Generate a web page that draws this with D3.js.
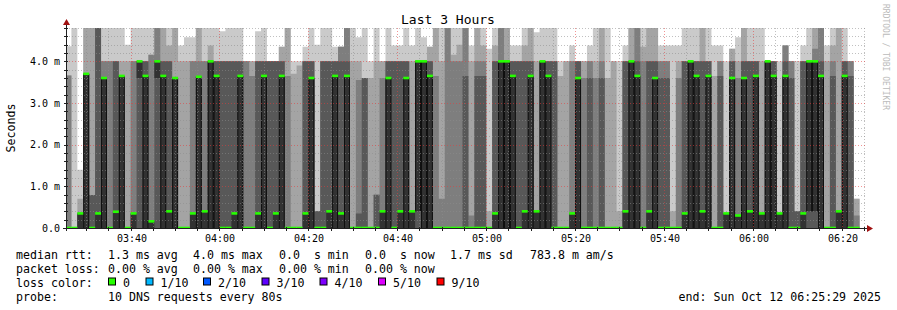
<!DOCTYPE html>
<html><head><meta charset="utf-8">
<script src="https://cdn.jsdelivr.net/npm/d3@7/dist/d3.min.js"></script>
<style>
body{margin:0;background:#fff}
svg{display:block}
text{font-family:"DejaVu Sans Mono",monospace}
</style>
</head><body>
<svg id="chart" width="897" height="310"></svg>
<script>
// ---------- data ----------
const chartTitle = "Last 3 Hours";
const yAxisLabel = "Seconds";
const endTime = new Date(2025, 9, 12, 6, 25, 29);
const startTime = new Date(2025, 9, 12, 3, 25, 29);
const firstStep = new Date(2025, 9, 12, 3, 25, 22);
const stepSeconds = 80;
// 10 sorted DNS round-trip times per step, in ms (values above 4.8 are off the chart)
const pings = [
[0,0,0,0,0,0,0,3.66,3.66,4.36],
[0,0,0,0,0,0,0,0,0,5],
[0,0,0,0,0,0.35,0.35,0.35,0.70,1.40],
[0,0,0,0,0,3.70,3.70,3.70,5,5],
[0,0,0,0,0,0,0.79,0.79,5,5],
[0,0,0,0,0,0.35,5,5,5,5],
[0,0,0,0,0,3.60,3.60,4.0,4.0,5],
[0,0,0,0,0,0,0,4.0,4.0,5],
[0,0,0,0,0,0.39,4.0,4.0,4.0,5],
[0,0,0,0,0,3.65,3.65,3.65,4.0,5],
[0,0,0,0,0,0,0,0,4.0,4.40],
[0,0,0,0,0,0.35,0.35,4.0,4.0,5],
[0,0,0,0,3.6,4.0,4.0,4.0,4.0,5],
[0,0,0,0,0,3.65,4.0,4.0,4.0,5],
[0,0,0,0,0,0.16,0.16,4.16,4.16,5],
[0,0,0,0,3.6,4.0,4.0,5,5,5],
[0,0,0,0,0,3.65,4.0,4.0,5,5],
[0,0,0,0,0,0.40,4.0,4.0,4.38,5],
[0,0,0,0,0,3.60,3.60,3.60,5,5],
[0,0,0,0,0,0,0,0,4.0,4.38],
[0,0,0,0,0,0,0,0,4.0,4.58],
[0,0,0,0,0,0.35,0.35,4.0,4.0,4.58],
[0,0,0,0,0,3.63,3.63,4.0,5,5],
[0,0,0,0,0,0.40,0.40,4.0,4.0,5],
[0,0,0,0,0,4.0,4.0,4.0,4.38,5],
[0,0,0,0,0,3.65,4.0,4.0,4.0,5],
[0,0,0,0,0,0,4.0,4.0,4.0,4.72],
[0,0,0,0,0,0,4.0,4.0,4.0,5],
[0,0,0,0,0,0.35,4.0,4.0,4.0,5],
[0,0,0,0,0,3.65,4.0,4.0,4.0,5],
[0,0,0,0,0,0,0,4.0,4.0,4.0],
[0,0,0,0,0,0,0,3.65,4.0,4.0],
[0,0,0,0,0,0.35,4.0,4.0,4.0,4.72],
[0,0,0,0,0,3.65,4.0,4.0,4.0,5],
[0,0,0,0,0,0,4.0,4.0,4.0,4.0],
[0,0,0,0,0,0.35,4.0,4.0,4.0,4.0],
[0,0,0,0,0,3.65,4.0,4.0,4.35,4.35],
[0,0,0,0,0,0,0,3.65,5,5],
[0,0,0,0,0,0,0,0,3.7,4.0],
[0,0,0,0,0,0,0,0,3.9,4.0],
[0,0,0,0,0,0.35,4.0,4.0,4.0,4.35],
[0,0,0,0,0,3.60,4.0,4.0,4.0,5],
[0,0,0,0,0,0,0.40,0.40,0.40,4.40],
[0,0,0,0,0,0,4.0,4.0,4.0,5],
[0,0,0,0,0,0.40,4.0,4.0,4.0,5],
[0,0,0,0,0,3.65,4.0,4.0,4.0,4.35],
[0,0,0,0,0,0.35,4.0,4.35,4.35,4.35],
[0,0,0,0,0,3.65,4.0,5,5,5],
[0,0,0,0,0,0,0,0,4.0,5],
[0,0,0,0,0,0,0.35,3.55,4.0,4.58],
[0,0,0,0,0,0,3.6,3.6,3.6,5],
[0,0,0,0,0,0,0,0,3.6,4.0],
[0,0,0,0,0,0,0.8,0.8,4.0,5],
[0,0,0,0,0,0.40,0.40,3.6,4.0,4.0],
[0,0,0,0,0,3.60,4.0,4.0,4.0,5],
[0,0,0,0,0,0,4.0,4.0,4.0,4.38],
[0,0,0,0,0,0.40,4.0,4.0,4.0,4.38],
[0,0,0,0,0,3.60,4.0,4.0,4.0,5],
[0,0,0,0,0,0.40,0.40,0.40,4.0,4.38],
[0,0,0,0,0.4,4.0,4.0,4.0,4.0,5],
[0,0,0,0,0,4.0,4.0,4.0,4.0,4.58],
[0,0,0,0,0,3.65,4.0,4.0,4.35,4.35],
[0,0,0,0,0,0,0,3.65,5,5],
[0,0,0,0,0,0,0,0.7,4.0,5],
[0,0,0,0,0,0,0,5,5,5],
[0,0,0,0,0,0,0,4.0,4.16,5],
[0,0,0,0,0,0,0,4.0,4.4,5],
[0,0,0,0,0,0,3.65,5,5,5],
[0,0,0,0,0,0,0,0.3,4.0,4.38],
[0,0,0,0,0,0,3.65,4.0,5,5],
[0,0,0,0,0,0,3.65,4.0,4.38,5],
[0,0,0,0,0,0,0,0,0.4,4.3],
[0,0,0,0,0,0.35,4.0,4.0,4.38,5],
[0,0,0,0,0,4.0,4.0,5,5,5],
[0,0,0,0,0,4.0,4.0,4.0,5,5],
[0,0,0,0,0,3.65,4.0,4.0,4.0,4.38],
[0,0,0,0,0,0,4.0,4.0,4.0,4.38],
[0,0,0,0,0,0.40,4.0,4.0,4.38,5],
[0,0,0,0,0,3.65,4.0,4.0,5,5],
[0,0,0,0,0,0.40,0.40,0.40,4.0,4.7],
[0,0,0,0,0,4.0,4.0,4.0,4.0,5],
[0,0,0,0,0,3.65,4.0,4.0,4.0,5],
[0,0,0,0,0,0,4.0,4.0,4.0,5],
[0,0,0,0,0,0,0,0,3.65,4.0],
[0,0,0,0,0,0,0,0,4.0,4.0],
[0,0,0,0,0,0.35,0.35,4.0,4.0,4.38],
[0,0,0,0,0,3.60,4.0,4.0,4.0,4.0],
[0,0,0,0,0,0,0,3.6,4.0,4.0],
[0,0,0,0,0,0,3.6,4.0,4.0,4.38],
[0,0,0,0,0,0,0,3.6,4.0,5],
[0,0,0,0,0,0,3.6,4.0,5,5],
[0,0,0,0,0,0,0,0,3.6,5],
[0,0,0,0,0,0,0,0,4.0,4.0],
[0,0,0,0,0,0,0,0,0.4,4.0],
[0,0,0,0,0,0.40,4.0,4.0,4.0,4.38],
[0,0,0,0,0,4.0,4.0,4.0,5,5],
[0,0,0,0,0,3.65,4.0,5,5,5],
[0,0,0,0,0,0,0,4.0,4.35,5],
[0,0,0,0,0,0.40,4.0,4.0,5,5],
[0,0,0,0,0,3.60,4.0,4.0,5,5],
[0,0,0,0,0,0,3.6,4.0,4.0,4.38],
[0,0,0,0,0,0,3.6,4.0,4.0,4.38],
[0,0,0,0,0,0,0,0,0.4,4.38],
[0,0,0,0,0,0,0,3.6,4.0,4.38],
[0,0,0,0,0,0.35,4.0,4.0,4.0,5],
[0,0,0,0,0,4.0,4.0,4.0,4.0,5],
[0,0,0,0,0,3.65,4.0,4.0,4.0,5],
[0,0,0,0,0,0.40,4.0,4.0,5,5],
[0,0,0,0,0,3.65,4.0,4.0,4.0,5],
[0,0,0,0,0,0,0,0,3.65,4.38],
[0,0,0,0,0,0,3.65,4.0,4.0,4.38],
[0,0,0,0,0,0.35,0.35,0.35,0.35,4.0],
[0,0,0,0,0,3.60,4.0,4.0,4.3,4.3],
[0,0,0,0,0,0.30,0.30,3.6,4.0,4.58],
[0,0,0,0,0,3.60,4.0,4.0,5,5],
[0,0,0,0,0,0.40,4.0,4.0,4.0,5],
[0,0,0,0,0,3.65,4.0,4.0,4.0,5],
[0,0,0,0,0,0.35,0.35,0.35,4.0,5],
[0,0,0,0,0,4.0,4.0,4.0,4.0,4.0],
[0,0,0,0,0,3.65,4.0,4.0,4.0,4.0],
[0,0,0,0,0,0.35,0.35,0.35,0.35,4.0],
[0,0,0,0,0,3.65,4.0,4.38,4.38,4.38],
[0,0,0,0,0,0,3.6,4.0,4.0,4.0],
[0,0,0,0,0,0,0.4,0.4,0.4,4.0],
[0,0,0,0,0,0.35,4.0,4.0,4.0,4.38],
[0,0,0,0,0.4,4.0,4.0,4.0,4.0,5],
[0,0,0,0,0.4,4.0,4.0,4.3,5,5],
[0,0,0,0,0,3.65,4.0,5,5,5],
[0,0,0,0,0,0,0,0,4.0,4.38],
[0,0,0,0,0,0,3.65,4.0,4.38,5],
[0,0,0,0,0,0.40,0.40,0.40,5,5],
[0,0,0,0,0,3.65,4.0,4.0,4.0,5],
[0,0,0,0,0,0,3.65,4.0,4.0,4.0],
[0,0,0,0,0,0,0,0.3,0.7,0.7]
];
const yTickValues = [0, 1, 2, 3, 4];
const yTickLabels = ["0.0", "1.0 m", "2.0 m", "3.0 m", "4.0 m"];
const lossLabels = ["0", "1/10", "2/10", "3/10", "4/10", "5/10", "9/10"];
const lossColors = ["#26ff00", "#00b8ff", "#0059ff", "#5e00ff", "#7e00ff", "#dd00ff", "#ff0000"];
const medianStats = ["1.3 ms avg", "4.0 ms max", "0.0  s min", "0.0  s now", "1.7 ms sd", "783.8 m am/s"];
const lossStats = ["0.00 % avg", "0.00 % max", "0.00 % min", "0.00 % now"];
const probeText = "10 DNS requests every 80s";
const endText = "end: Sun Oct 12 06:25:29 2025";

// ---------- drawing ----------
const svg = d3.select("#chart");
const X0 = 66, X1 = 866, Y0 = 228, Y1 = 28;
const x = d3.scaleTime().domain([startTime, endTime]).range([X0, X1]);
const y = d3.scaleLinear().domain([0, 4.8]).range([Y0, Y1]);

svg.append("rect").attr("width", 897).attr("height", 310).attr("fill", "#fff");
svg.append("defs").append("clipPath").attr("id", "plot")
  .append("rect").attr("x", X0).attr("y", Y1).attr("width", X1 - X0).attr("height", Y0 - Y1);

const steps = pings.map((p, i) => ({t: new Date(+firstStep + i * stepSeconds * 1000), p}));
const stepsExt = steps.concat([{t: new Date(+firstStep + pings.length * stepSeconds * 1000), p: pings[pings.length - 1]}]);

const g = svg.append("g").attr("clip-path", "url(#plot)");
const half = 5;
for (let i = 0; i < half; i++) {
  const c = Math.floor(190 / half * (half - 1 - i)) + 50;
  const col = d3.rgb(c, c, c).formatHex();
  const area = d3.area()
    .x(d => x(d.t))
    .y0(d => y(d.p[i]))
    .y1(d => y(d.p[9 - i]))
    .curve(d3.curveStepAfter);
  g.append("path").datum(stepsExt).attr("d", area).attr("fill", col);
}
// dark edges of innermost band
const stepW = x(new Date(+firstStep + stepSeconds * 1000)) - x(firstStep);
g.selectAll("g.edge").data(steps.filter(d => d.p[5] - d.p[4] > 0.5)).enter()
  .append("g").each(function(d) {
    const gg = d3.select(this);
    const xa = x(d.t), xb = xa + stepW;
    [xa + 0.5, xb - 0.5].forEach(xx => gg.append("line")
      .attr("x1", xx).attr("x2", xx).attr("y1", y(d.p[5])).attr("y2", y(d.p[4]))
      .attr("stroke", "#000").attr("stroke-width", 1).attr("stroke-opacity", 0.7));
  });

// grid
const gridG = svg.append("g");
const minorY = d3.range(1, 25).map(v => v * 0.2).filter(v => Math.abs(v - Math.round(v)) > 0.01);
gridG.selectAll("line.hmin").data(minorY).enter().append("line")
  .attr("x1", X0).attr("x2", X1).attr("y1", d => Math.round(y(d)) + 0.5).attr("y2", d => Math.round(y(d)) + 0.5)
  .attr("stroke", "rgba(140,140,140,0.55)").attr("stroke-dasharray", "1,2");
const minorT = d3.timeMinute.every(5).range(startTime, endTime).filter(t => t.getMinutes() % 20 !== 0);
gridG.selectAll("line.vmin").data(minorT).enter().append("line")
  .attr("x1", d => Math.round(x(d)) + 0.5).attr("x2", d => Math.round(x(d)) + 0.5).attr("y1", Y1).attr("y2", Y0)
  .attr("stroke", "rgba(140,140,140,0.55)").attr("stroke-dasharray", "1,2");
gridG.selectAll("line.hmaj").data(yTickValues.slice(1)).enter().append("line")
  .attr("x1", X0).attr("x2", X1).attr("y1", d => Math.round(y(d)) + 0.5).attr("y2", d => Math.round(y(d)) + 0.5)
  .attr("stroke", "rgba(230,60,60,0.55)").attr("stroke-dasharray", "1,2");
const majorT = d3.timeMinute.every(20).range(startTime, endTime);
gridG.selectAll("line.vmaj").data(majorT).enter().append("line")
  .attr("x1", d => Math.round(x(d)) + 0.5).attr("x2", d => Math.round(x(d)) + 0.5).attr("y1", Y1).attr("y2", Y0)
  .attr("stroke", "rgba(230,60,60,0.55)").attr("stroke-dasharray", "1,2");

// median bars
const medG = svg.append("g").attr("clip-path", "url(#plot)");
medG.selectAll("rect").data(steps).enter().append("rect")
  .attr("x", d => x(d.t)).attr("width", stepW)
  .attr("y", d => y(d.p[5]) - 1.3).attr("height", 2.6)
  .attr("fill", lossColors[0]);

// axes
const axisCol = "#202020";
svg.append("line").attr("x1", X0 - 3).attr("x2", X1 + 2).attr("y1", Y0 + 0.5).attr("y2", Y0 + 0.5).attr("stroke", axisCol);
svg.append("line").attr("x1", X0 + 0.5).attr("x2", X0 + 0.5).attr("y1", Y0 + 3).attr("y2", Y1 - 4).attr("stroke", axisCol);
svg.append("path").attr("d", `M${X0 - 3},${Y1 - 3} L${X0 + 4},${Y1 - 3} L${X0 + 0.5},${Y1 - 9} Z`).attr("fill", "#a01010");
svg.append("path").attr("d", `M${X1 + 1},${Y0 - 3} L${X1 + 1},${Y0 + 4} L${X1 + 7},${Y0 + 0.5} Z`).attr("fill", "#a01010");
// ticks
const yAll = d3.range(0, 25).map(v => v * 0.2);
svg.selectAll("line.ytk").data(yAll).enter().append("line")
  .attr("x1", X0 - 2).attr("x2", X0 + 2).attr("y1", d => Math.round(y(d)) + 0.5).attr("y2", d => Math.round(y(d)) + 0.5)
  .attr("stroke", axisCol);
const tAll = d3.timeMinute.every(5).range(startTime, endTime);
svg.selectAll("line.xtk").data(tAll).enter().append("line")
  .attr("x1", d => Math.round(x(d)) + 0.5).attr("x2", d => Math.round(x(d)) + 0.5).attr("y1", Y0 - 1).attr("y2", Y0 + 3)
  .attr("stroke", axisCol);

// y labels
svg.selectAll("text.ylab").data(yTickValues).enter().append("text")
  .attr("x", 60).attr("y", d => y(d) + 3.5).attr("text-anchor", "end")
  .attr("font-size", "10px").text((d, i) => yTickLabels[i]);
// x labels
svg.selectAll("text.xlab").data(majorT).enter().append("text")
  .attr("x", d => Math.round(x(d)) + 1).attr("y", 242).attr("text-anchor", "middle")
  .attr("font-size", "10px").text(d3.timeFormat("%H:%M"));

// title, y label, watermark
svg.append("text").attr("x", 448).attr("y", 24).attr("text-anchor", "middle").attr("font-size", "13px").text(chartTitle);
svg.append("text").attr("transform", "translate(15,128) rotate(-90)").attr("text-anchor", "middle")
  .attr("font-size", "11.6px").text(yAxisLabel);
svg.append("text").attr("transform", "translate(883,4) rotate(90)").attr("font-size", "8px")
  .attr("fill", "#bbbbbb").text("RRDTOOL / TOBI OETIKER");

// legend
const fs = "11.6px";
const rows = [258.5, 272.5, 286.5, 300.5];
svg.append("text").attr("x", 16).attr("y", rows[0]).attr("font-size", fs).text("median rtt:");
const medX = [108, 193, 279, 365, 450, 530];
medianStats.forEach((s, i) => svg.append("text").attr("x", medX[i]).attr("y", rows[0]).attr("font-size", fs)
  .style("white-space", "pre").text(s));
svg.append("text").attr("x", 16).attr("y", rows[1]).attr("font-size", fs).text("packet loss:");
const lossX = [108, 193, 279, 365];
lossStats.forEach((s, i) => svg.append("text").attr("x", lossX[i]).attr("y", rows[1]).attr("font-size", fs)
  .style("white-space", "pre").text(s));
svg.append("text").attr("x", 16).attr("y", rows[2]).attr("font-size", fs).text("loss color:");
const boxX = [108.5, 146, 203.5, 262, 320, 378.5, 437];
lossLabels.forEach((s, i) => {
  svg.append("rect").attr("x", boxX[i]).attr("y", rows[2] - 8.5).attr("width", 7).attr("height", 7)
    .attr("fill", lossColors[i]).attr("stroke", "#000").attr("stroke-width", 1);
  svg.append("text").attr("x", boxX[i] + 14.5).attr("y", rows[2]).attr("font-size", fs).text(s);
});
svg.append("text").attr("x", 16).attr("y", rows[3]).attr("font-size", fs).text("probe:");
svg.append("text").attr("x", 108).attr("y", rows[3]).attr("font-size", fs).text(probeText);
svg.append("text").attr("x", 881).attr("y", rows[3]).attr("text-anchor", "end").attr("font-size", fs).text(endText);
</script>
</body></html>
